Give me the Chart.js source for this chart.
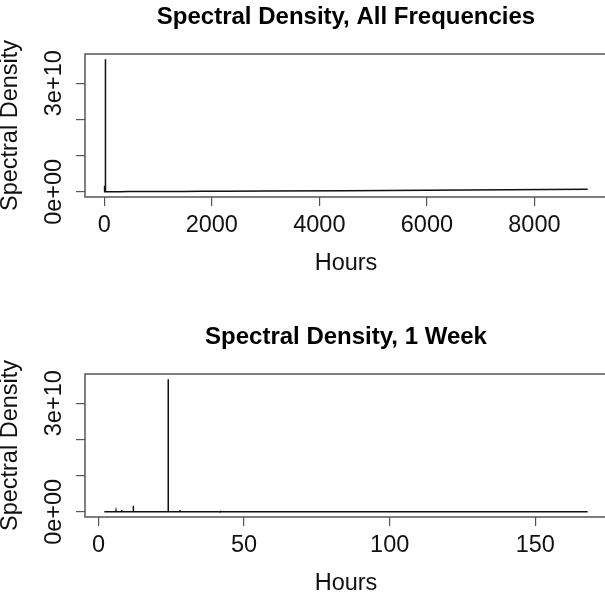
<!DOCTYPE html>
<html><head><meta charset="utf-8">
<script src="https://cdn.jsdelivr.net/npm/chart.js@4"></script>
<style>
html,body{margin:0;padding:0;background:#fff;overflow:hidden;width:605px;height:596px;position:relative;}
.wrap{position:absolute;left:0;width:620px;height:290px;}
canvas{display:block;}
</style></head><body>
<div class="wrap" style="top:0"><canvas id="c1" width="620" height="290"></canvas></div>
<div class="wrap" style="top:320px"><canvas id="c2" width="620" height="290"></canvas></div>
<script>
// Period (hours) of each spectral estimate, longest period first
const periodHours = [8990, 4495, 2997, 2247, 1798, 1498, 1123, 899, 642, 450, 300, 200, 168,
  120, 84, 60, 42.1, 42, 41.9, 36, 33.7, 33.6, 33.5, 30, 28.1, 28, 27.9, 25, 24.1, 24, 23.9,
  22, 21.1, 21, 20.9, 18, 16, 14, 12.05, 12, 11.95, 10, 8.05, 8, 7.95, 6.05, 6, 5.95, 5,
  4.85, 4.8, 4.75, 4, 3, 2];
// Spectral density at each period
const spectralDensity = [0.07e10, 0.03e10, 0.022e10, 0.018e10, 0.015e10, 0.012e10, 0.01e10, 0.009e10, 0.008e10, 0.007e10, 0.006e10, 0.005e10, 0.005e10,
  0.004e10, 0.004e10, 0.004e10, 0.004e10, 0.012e10, 0.004e10, 0.004e10, 0.004e10, 0.015e10, 0.004e10, 0.004e10, 0.004e10, 0.045e10, 0.004e10, 0.006e10, 0.01e10, 3.66e10, 0.01e10,
  0.006e10, 0.006e10, 0.02e10, 0.006e10, 0.006e10, 0.006e10, 0.006e10, 0.006e10, 0.17e10, 0.006e10, 0.006e10, 0.006e10, 0.05e10, 0.006e10, 0.006e10, 0.03e10, 0.006e10, 0.006e10,
  0.006e10, 0.02e10, 0.006e10, 0.006e10, 0.006e10, 0.006e10];

const weekMaxHours = 168;
const allXTicks = [0, 2000, 4000, 6000, 8000];
const weekXTicks = [0, 50, 100, 150];
const yTicks = [0, 1e10, 2e10, 3e10];
const yTickLabels = ['0e+00', '', '', '3e+10'];
const chartTitles = ['Spectral Density, All Frequencies', 'Spectral Density, 1 Week'];
const xAxisTitle = 'Hours';
const yAxisTitle = 'Spectral Density';

Chart.defaults.font.family = '"Liberation Sans", Arial, Helvetica, sans-serif';
Chart.defaults.color = '#111';

const FONT = 23.5;

const rStyle = {
  id: 'rStyle',
  afterDraw(chart) {
    const {ctx, chartArea: a, scales: {y}} = chart;
    ctx.save();
    ctx.strokeStyle = '#555';
    ctx.lineWidth = 1.5;
    ctx.strokeRect(a.left, a.top, a.right - a.left, a.bottom - a.top);
    ctx.fillStyle = '#111';
    ctx.font = FONT + 'px "Liberation Sans", Arial, sans-serif';
    ctx.textAlign = 'center';
    ctx.textBaseline = 'alphabetic';
    yTicks.forEach((v, i) => {
      const lab = yTickLabels[i];
      if (!lab) return;
      const py = y.getPixelForValue(v);
      ctx.save();
      ctx.translate(a.left - 24, py);
      ctx.rotate(-Math.PI / 2);
      ctx.fillText(lab, 0, 0);
      ctx.restore();
    });
    ctx.restore();
  }
};

function rRange(vals) {
  const lo = Math.min(...vals), hi = Math.max(...vals);
  const d = (hi - lo) * 0.04;
  return [lo - d, hi + d];
}

function makeChart(id, xs, ys, xTicks, title) {
  const pts = xs.map((x, i) => ({x, y: ys[i]}));
  const [xmin, xmax] = rRange(xs);
  const [ymin, ymax] = rRange(ys);
  const grid = {display: true, drawOnChartArea: false, drawTicks: true, tickLength: 9, color: '#555', lineWidth: 1.2};
  return new Chart(document.getElementById(id), {
    type: 'line',
    data: {datasets: [{data: pts, borderColor: '#111', borderWidth: 1.5, pointRadius: 0, tension: 0, fill: false}]},
    options: {
      responsive: false, animation: false, devicePixelRatio: 1,
      layout: {padding: {left: 0, right: 13, top: 0, bottom: 0}},
      plugins: {
        legend: {display: false}, tooltip: {enabled: false},
        title: {display: true, text: title, fullSize: false, color: '#000',
          font: {size: 24, weight: 'bold'}, padding: {top: 3, bottom: 22.2}}
      },
      scales: {
        x: {
          type: 'linear', min: xmin, max: xmax,
          afterBuildTicks: s => { s.ticks = xTicks.map(v => ({value: v})); },
          afterFit: s => { s.height = 93; },
          grid, border: {display: false},
          ticks: {padding: 5, font: {size: FONT}, color: '#111', maxRotation: 0, minRotation: 0, autoSkip: false,
            callback: v => String(v)},
          title: {display: true, text: xAxisTitle, font: {size: FONT}, color: '#111', padding: {top: 0, bottom: 12}}
        },
        y: {
          type: 'linear', min: ymin, max: ymax,
          afterBuildTicks: s => { s.ticks = yTicks.map(v => ({value: v})); },
          afterFit: s => { s.width = 85; },
          grid, border: {display: false},
          ticks: {callback: () => '', padding: 0},
          title: {display: true, text: yAxisTitle, font: {size: FONT, lineHeight: 0.9}, color: '#111', padding: {top: 0, bottom: 0}}
        }
      }
    },
    plugins: [rStyle]
  });
}

makeChart('c1', periodHours, spectralDensity, allXTicks, chartTitles[0]);
const weekIdx = periodHours.map((p, i) => i).filter(i => periodHours[i] <= weekMaxHours);
makeChart('c2', weekIdx.map(i => periodHours[i]), weekIdx.map(i => spectralDensity[i]), weekXTicks, chartTitles[1]);
</script>
</body></html>
